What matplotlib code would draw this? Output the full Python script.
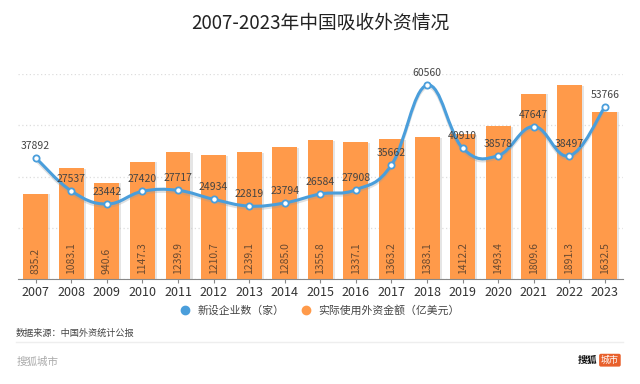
import numpy as np
import matplotlib.pyplot as plt
from matplotlib.path import Path
from matplotlib.patches import PathPatch
from matplotlib.lines import Line2D
import matplotlib.patheffects as pe

plt.rcParams['font.family'] = ['Noto Sans CJK SC', 'DejaVu Sans']

years = ['2007', '2008', '2009', '2010', '2011', '2012', '2013', '2014', '2015',
         '2016', '2017', '2018', '2019', '2020', '2021', '2022', '2023']
new_firms = [37892, 27537, 23442, 27420, 27717, 24934, 22819, 23794, 26584,
             27908, 35662, 60560, 40910, 38578, 47647, 38497, 53766]
fdi_amount = [835.2, 1083.1, 940.6, 1147.3, 1239.9, 1210.7, 1239.1, 1285.0, 1355.8,
              1337.1, 1363.2, 1383.1, 1412.2, 1493.4, 1809.6, 1891.3, 1632.5]

orange = '#FF9A4A'
blue = '#4A9EDB'

fig = plt.figure(figsize=(6.4, 3.84), dpi=100)
ax = fig.add_axes([0.028, 0.273, 0.945, 0.534])
ax2 = ax.twinx()

x = np.arange(len(years))

# bars
bars = ax.bar(x, fdi_amount, width=0.7, color=orange, zorder=2)
for b in bars:
    b.set_path_effects([pe.SimplePatchShadow(offset=(1.5, -0.5), shadow_rgbFace='#cccccc', alpha=0.5),
                        pe.Normal()])
for xi, v in zip(x, fdi_amount):
    ax.text(xi, 55, f'{v:.1f}', rotation=90, ha='center', va='bottom',
            fontsize=7.5, color='#6b4a30', zorder=3)

ax.set_ylim(0, 2000)
ax.set_xlim(-0.5, len(years) - 0.5)
ax.set_yticks([0, 500, 1000, 1500, 2000])
ax.yaxis.grid(True, color='#dddddd', linestyle=(0, (1, 2)), linewidth=0.9)
ax.set_axisbelow(True)
ax.tick_params(axis='y', left=False, labelleft=False)
ax.set_xticks(x)
ax.set_xticklabels(years, fontsize=9, color='#333333')
ax.tick_params(axis='x', length=3, color='#888888', pad=2)
for s in ['top', 'right', 'left']:
    ax.spines[s].set_visible(False)
ax.spines['bottom'].set_color('#888888')

# smooth line drawn as cubic bezier path through the data points
ax2.set_ylim(0, 64000)
ax2.axis('off')
ax2.set_xlim(ax.get_xlim())
pts = np.column_stack([x, new_firms]).astype(float)
t = 0.2
verts = [pts[0]]
codes = [Path.MOVETO]
n = len(pts)
for i in range(n - 1):
    p0 = pts[i - 1] if i > 0 else pts[i]
    p1 = pts[i]
    p2 = pts[i + 1]
    p3 = pts[i + 2] if i + 2 < n else pts[i + 1]
    verts += [p1 + (p2 - p0) * t, p2 - (p3 - p1) * t, p2]
    codes += [Path.CURVE4] * 3
curve = PathPatch(Path(verts, codes), facecolor='none', edgecolor=blue, lw=2.2, zorder=4,
                  path_effects=[pe.SimpleLineShadow(offset=(0, -1.5), shadow_color='#999999', alpha=0.3),
                                pe.Normal()])
ax2.add_patch(curve)
ax2.plot(x, new_firms, 'o', ms=4.5, mfc='white', mec=blue, mew=1.3, zorder=5)
for xi, v in zip(x, new_firms):
    ax2.annotate(str(v), (xi, v), xytext=(0, 5), textcoords='offset points',
                 ha='center', va='bottom', fontsize=7.5, color='#444444', zorder=6)

# title
fig.text(0.5, 0.94, '2007-2023年中国吸收外资情况', ha='center', va='center',
         fontsize=13.5, color='#222222')

# legend
leg_handles = [Line2D([], [], marker='o', ls='', ms=6, color=blue),
               Line2D([], [], marker='o', ls='', ms=6, color=orange)]
fig.legend(leg_handles, ['新设企业数（家）', '实际使用外资金额（亿美元）'],
           loc='center', bbox_to_anchor=(0.495, 0.192), ncol=2, frameon=False,
           fontsize=7.8, handletextpad=0.1, columnspacing=1.0, labelcolor='#444444')

# footer
fig.text(0.025, 0.133, '数据来源：中国外资统计公报', fontsize=6.6, color='#444444', va='center')
fig.add_artist(Line2D([0.025, 0.973], [0.109, 0.109], color='#eeeeee', lw=1))
fig.text(0.026, 0.057, '搜狐城市', fontsize=7.6, color='#aaaaaa', va='center')
fig.text(0.933, 0.062, '搜狐', fontsize=7, color='#111111', va='center', ha='right',
         fontweight='bold')
fig.text(0.953, 0.062, '城市', fontsize=6.5, color='white', va='center', ha='center',
         bbox=dict(boxstyle='round,pad=0.2', fc='#e8602c', ec='none'))

fig.savefig('out.png', dpi=100, facecolor='white')
